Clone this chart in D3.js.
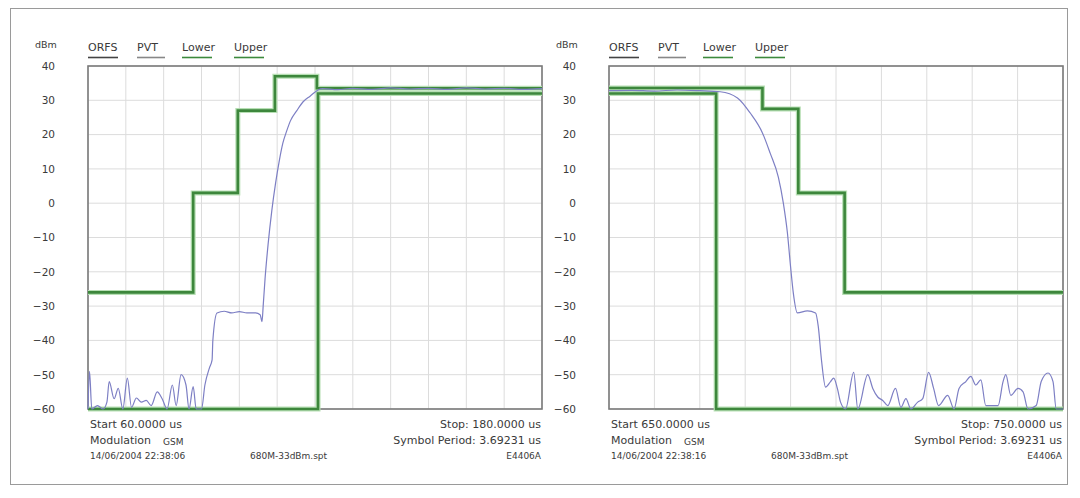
<!DOCTYPE html>
<html>
<head>
<meta charset="utf-8">
<script src="https://cdnjs.cloudflare.com/ajax/libs/d3/7.8.5/d3.min.js"></script>
<style>
  body { margin: 0; background: #fff; }
  svg text { font-family: "DejaVu Sans", "Liberation Sans", sans-serif; fill: #3a3a3a; }
</style>
</head>
<body>
<svg id="chart" width="1080" height="498"></svg>
<script>
// y axis ticks (dBm), shared by both panels
const yTicks = [40, 30, 20, 10, 0, -10, -20, -30, -40, -50, -60];
const legendItems = ['ORFS', 'PVT', 'Lower', 'Upper'];

// left panel: rising edge, 60..180 us
const leftRange = [60, 180];
const leftUpperX = [60, 87.8, 99.6, 109.4, 120.5, 180];
const leftUpperY = [-26, 3, 27, 37, 33.5, 33.5];
const leftLowerX = [60, 120.8, 180];
const leftLowerY = [-60, 32, 32];
const leftTraceX = [60.0, 60.4, 61.0, 62.5, 64.0, 65.0, 65.6, 66.9, 68.0, 69.2, 70.4, 71.5, 72.8, 74.1, 75.4,
  76.7, 78.3, 79.6, 80.9, 82.3, 83.3, 84.6, 85.9, 86.7, 87.8, 88.6, 90.0, 90.9, 92.1, 92.8, 93.0, 94.1,
  96.0, 98.0, 100.0, 102.0, 104.3, 105.5, 106.0, 106.3, 106.8, 107.6, 108.6, 109.6, 110.5, 111.5, 112.5,
  113.5, 115.2, 116.8, 118.7, 120.8, 122, 126, 130, 135, 140, 145, 150, 155, 160, 165, 170, 175, 180];
const leftTraceY = [-60, -49, -60, -59, -60, -58, -52, -57, -54, -60, -51, -59.5, -56.8, -58, -57.5,
  -59, -55, -57, -60, -53, -59, -50, -53, -60, -53.5, -60, -60, -53, -48, -45.7, -40, -32,
  -31.5, -32, -31.6, -32, -32, -32.5, -34.5, -30, -22, -12, -2, 6, 12, 17.5, 21,
  24, 27, 29.5, 31.2, 33, 33.4, 33.1, 33.5, 33.2, 33.6, 33.3, 33.5, 33.2, 33.6, 33.3, 33.5, 33.2, 33.4];
const leftFooter = ['Start 60.0000 us', 'Stop: 180.0000 us', 'Modulation', 'GSM', 'Symbol Period: 3.69231 us',
  '14/06/2004 22:38:06', '680M-33dBm.spt', 'E4406A'];

// right panel: falling edge, 650..750 us
const rightRange = [650, 750];
const rightUpperX = [650, 683.8, 691.7, 701.9, 750];
const rightUpperY = [33.6, 27.5, 3, -26, -26];
const rightLowerX = [650, 673.6, 750];
const rightLowerY = [32, -60, -60];
const rightTraceX = [650, 655, 660, 665, 670, 674.5, 678.3, 681.1, 683.8, 685.5, 687.3, 688.4, 689.3, 690.0,
  690.6, 691.5, 693.7, 695.5, 696.1, 696.8, 697.7, 698.8, 699.5, 700.3, 701.0, 702.1, 703.9, 704.8,
  707.0, 708.1, 709.2, 710.3, 711.4, 713.1, 714.3, 715.4, 716.5, 718.0, 719.1, 720.4, 721.5, 722.6,
  724.6, 726.0, 727.1, 728.6, 729.7, 730.8, 731.9, 733.0, 735.7, 736.8, 737.4, 738.5, 740.1, 741.2,
  742.3, 744.1, 745.2, 746.7, 747.8, 748.5, 750];
const rightTraceY = [32.8, 32.9, 32.7, 33.0, 32.8, 32.5, 30.7, 26.3, 20.5, 14.6, 7.6, 0, -8.7, -18.6,
  -26.2, -32, -31.4, -32, -36, -45.7, -53.6, -52, -51, -54, -58, -60, -49.3, -60,
  -50, -54, -56.5, -57.5, -59, -54, -59.5, -57, -60, -58, -57, -49.3, -54, -59,
  -56, -60, -54, -52, -50.5, -53, -51.5, -59, -59, -52, -50, -56, -54, -55,
  -60, -59, -52, -49.5, -52, -60, -60];
const rightFooter = ['Start 650.0000 us', 'Stop: 750.0000 us', 'Modulation', 'GSM', 'Symbol Period: 3.69231 us',
  '14/06/2004 22:38:16', '680M-33dBm.spt', 'E4406A'];

const svg = d3.select('#chart');

// outer frame
svg.append('rect')
  .attr('x', 10.5).attr('y', 8.5).attr('width', 1057).attr('height', 476)
  .attr('fill', 'none').attr('stroke', '#9a9a9a').attr('stroke-width', 1);

drawPanel({ left: 88, range: leftRange, upperX: leftUpperX, upperY: leftUpperY,
  lowerX: leftLowerX, lowerY: leftLowerY, traceX: leftTraceX, traceY: leftTraceY, footer: leftFooter });
drawPanel({ left: 609, range: rightRange, upperX: rightUpperX, upperY: rightUpperY,
  lowerX: rightLowerX, lowerY: rightLowerY, traceX: rightTraceX, traceY: rightTraceY, footer: rightFooter });

function drawPanel(p) {
  const w = 454, top = 66, h = 343;
  const x = d3.scaleLinear().domain(p.range).range([p.left, p.left + w]);
  const y = d3.scaleLinear().domain([-60, 40]).range([top + h, top]);
  const g = svg.append('g');

  // grid
  g.append('g').selectAll('line').data(x.ticks(10)).join('line')
    .attr('x1', d => x(d)).attr('x2', d => x(d)).attr('y1', top).attr('y2', top + h)
    .attr('stroke', '#dcdcdc').attr('stroke-width', 1);
  g.append('g').selectAll('line').data(yTicks).join('line')
    .attr('x1', p.left).attr('x2', p.left + w).attr('y1', d => y(d)).attr('y2', d => y(d))
    .attr('stroke', '#dcdcdc').attr('stroke-width', 1);

  // y axis labels
  const yAxis = d3.axisLeft(y).tickValues(yTicks).tickSize(0).tickPadding(33);
  g.append('g').attr('transform', `translate(${p.left},0)`).call(yAxis)
    .call(a => a.select('.domain').remove())
    .call(a => a.selectAll('text').attr('font-size', 10.5).attr('fill', '#3a3a3a')
      .style('font-family', '"DejaVu Sans", sans-serif'));
  g.append('text').attr('x', p.left - 53).attr('y', 48).attr('font-size', 9.5).text('dBm');

  // legend
  const legendX = [0, 49, 94, 146];
  const legendW = [30, 28, 30, 30];
  const legendC = ['#444', '#888', '#3c8a3c', '#3c8a3c'];
  legendItems.forEach((t, i) => {
    g.append('text').attr('x', p.left + legendX[i]).attr('y', 51).attr('font-size', 11).text(t);
    g.append('line').attr('x1', p.left + legendX[i]).attr('x2', p.left + legendX[i] + legendW[i])
      .attr('y1', 57.5).attr('y2', 57.5).attr('stroke', legendC[i]).attr('stroke-width', 1.6);
  });

  // frame
  g.append('rect').attr('x', p.left).attr('y', top).attr('width', w).attr('height', h)
    .attr('fill', 'none').attr('stroke', '#7a7a7a').attr('stroke-width', 1.6);

  // masks
  const stepLine = d3.line().x(d => x(d[0])).y(d => y(d[1])).curve(d3.curveStepAfter);
  const masks = [d3.zip(p.upperX, p.upperY), d3.zip(p.lowerX, p.lowerY)];
  masks.forEach(m => {
    g.append('path').datum(m).attr('d', stepLine).attr('fill', 'none')
      .attr('stroke', '#b7dfb4').attr('stroke-width', 5);
    g.append('path').datum(m).attr('d', stepLine).attr('fill', 'none')
      .attr('stroke', '#3d873c').attr('stroke-width', 2.6);
  });

  // PVT trace
  const line = d3.line().x(d => x(d[0])).y(d => y(d[1])).curve(d3.curveMonotoneX);
  g.append('path').datum(d3.zip(p.traceX, p.traceY)).attr('d', line).attr('fill', 'none')
    .attr('stroke', '#7d7fc4').attr('stroke-width', 1.2);

  // footer
  const f = p.footer;
  const fs = 11;
  g.append('text').attr('x', p.left + 2).attr('y', 428).attr('font-size', fs).text(f[0]);
  g.append('text').attr('x', p.left + w - 1).attr('y', 428).attr('font-size', fs).attr('text-anchor', 'end').text(f[1]);
  g.append('text').attr('x', p.left + 2).attr('y', 444).attr('font-size', fs).text(f[2]);
  g.append('text').attr('x', p.left + 75).attr('y', 445).attr('font-size', 9).text(f[3]);
  g.append('text').attr('x', p.left + w - 1).attr('y', 444).attr('font-size', fs).attr('text-anchor', 'end').text(f[4]);
  g.append('text').attr('x', p.left + 2).attr('y', 459).attr('font-size', 9).text(f[5]);
  g.append('text').attr('x', p.left + 162).attr('y', 459).attr('font-size', 9).text(f[6]);
  g.append('text').attr('x', p.left + w - 1).attr('y', 459).attr('font-size', 9).attr('text-anchor', 'end').text(f[7]);
}
</script>
</body>
</html>
